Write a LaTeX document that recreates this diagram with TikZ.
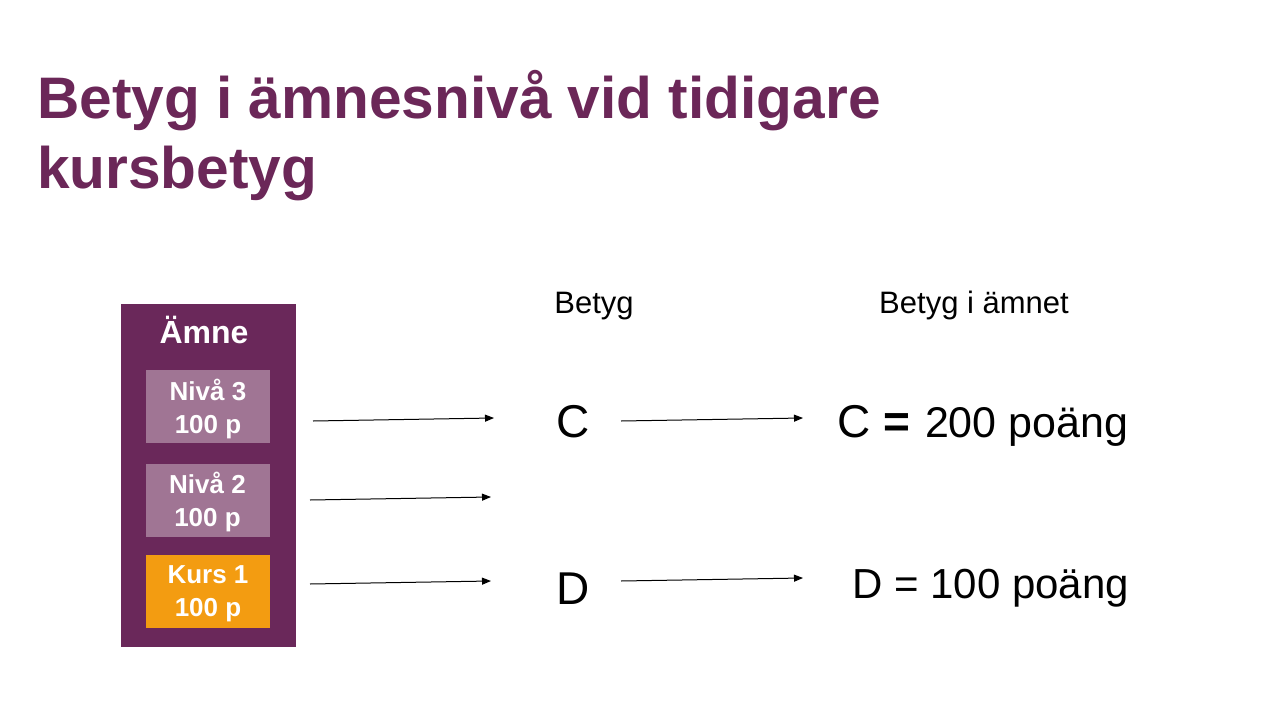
\documentclass[tikz,border=0pt]{standalone}
\usepackage{fontspec}
\setmainfont{Liberation Sans}
\usetikzlibrary{arrows.meta}
\definecolor{titlepurple}{HTML}{6B2758}
\definecolor{boxpurple}{HTML}{6A285A}
\definecolor{lightpurple}{HTML}{A07594}
\definecolor{kursorange}{HTML}{F39C11}
\begin{document}
\begin{tikzpicture}[x=1pt,y=-1pt,
  titletext/.style={anchor=base west, inner sep=0pt, text=titlepurple, font=\fontsize{58.6}{70}\selectfont\bfseries},
  outerbox/.style={fill=boxpurple, anchor=north west, minimum width=175pt, minimum height=343pt, inner sep=0pt},
  levelbox/.style={minimum width=124pt, minimum height=73pt, inner sep=0pt},
  boxtext/.style={inner sep=0pt, text=white, align=center, font=\fontsize{26}{33}\selectfont\bfseries},
  header/.style={anchor=base, inner sep=0pt, font=\fontsize{31}{36}\selectfont},
  grade/.style={anchor=base, inner sep=0pt, font=\fontsize{46}{50}\selectfont},
  result/.style={anchor=base west, inner sep=0pt, font=\fontsize{42}{50}\selectfont},
  conn/.style={-{Triangle[length=9pt,width=7pt]}, line width=1pt, black}]
\useasboundingbox (0,0) rectangle (1280,720);
\fill[white] (0,0) rectangle (1280,720);

\node[titletext] (t1) at (37,118) {Betyg i ämnesnivå vid tidigare};
\node[titletext] (t2) at (37,188) {kursbetyg};

\node[outerbox] (amne) at (121,304) {};
\node[anchor=base, inner sep=0pt, text=white, font=\fontsize{32}{36}\selectfont\bfseries] (amnelabel) at (204,343) {Ämne};

\node[levelbox, fill=lightpurple] (n3) at (208,406.5) {};
\node[levelbox, fill=lightpurple] (n2) at (207.5,500) {};
\node[levelbox, fill=kursorange] (k1) at (208,591.5) {};
\node[boxtext] (n3t) at ([yshift=-2pt]n3.center) {Nivå 3\\100 p};
\node[boxtext] (n2t) at ([yshift=-2pt]n2.center) {Nivå 2\\100 p};
\node[boxtext] (k1t) at ([yshift=-2pt]k1.center) {Kurs 1\\100 p};

\node[header] (hbetyg) at (594,313) {Betyg};
\node[header] (hamnet) at (974,313) {Betyg i ämnet};

\node[grade] (gc) at (573,437) {C};
\node[grade] (gd) at (573,604) {D};

\node[result] (rc) at (837,437) {\fontsize{46}{50}\selectfont C \textbf{=}\hspace{3pt}\fontsize{43}{50}\selectfont{} 200 poäng};
\node[result] (rd) at (852,598) {D = 100 poäng};

\coordinate (a1s) at (313,421); \coordinate (a1e) at (494,418);
\coordinate (a2s) at (310,500); \coordinate (a2e) at (491,497);
\coordinate (a3s) at (310,584); \coordinate (a3e) at (491,581);
\coordinate (a4s) at (621,421); \coordinate (a4e) at (803,418);
\coordinate (a5s) at (621,581); \coordinate (a5e) at (803,578);

\draw[conn] (a1s) -- (a1e);
\draw[conn] (a2s) -- (a2e);
\draw[conn] (a3s) -- (a3e);
\draw[conn] (a4s) -- (a4e);
\draw[conn] (a5s) -- (a5e);
\end{tikzpicture}
\end{document}
